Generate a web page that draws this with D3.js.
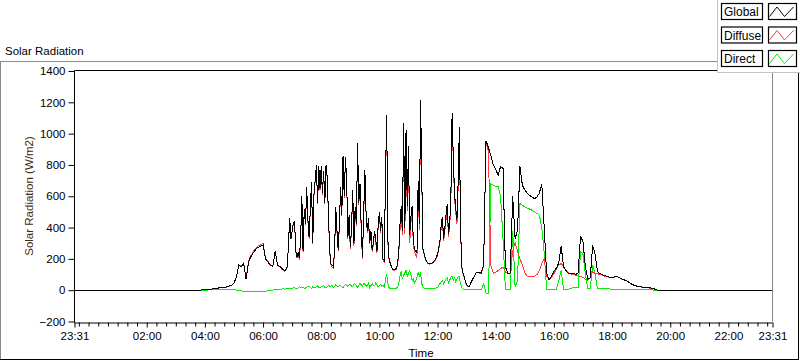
<!DOCTYPE html>
<html><head><meta charset="utf-8">
<script src="https://cdn.jsdelivr.net/npm/d3@7"></script>
<style>
html,body{margin:0;padding:0;background:#fff;}
svg{display:block;font-family:"Liberation Sans",Arial,sans-serif;}
</style></head><body>
<svg id="chart" width="800" height="361"></svg>
<script>
// ---------------- data ----------------
const chartTitle = "Solar Radiation";
const yAxisTitle = "Solar Radiation (W/m2)";
const xAxisTitle = "Time";
const seriesNames = ["Global", "Diffuse", "Direct"];
const seriesColors = ["#000000", "#ff3b3b", "#00ee00"];
const yTicks = [-200, 0, 200, 400, 600, 800, 1000, 1200, 1400];
const xTickLabels = ["23:31", "02:00", "04:00", "06:00", "08:00", "10:00", "12:00", "14:00", "16:00", "18:00", "20:00", "22:00", "23:31"];
const minorTickStepMin = 20;
// logger sampling: segments of regular readings
const sampleSegments = [
  { start: "03:50", stepMin: 5,   count: 36 },   // 03:50 - 06:45
  { start: "06:50", stepMin: 2.5, count: 148 },  // 06:50 - 12:57.5
  { start: "13:00", stepMin: 5,   count: 80 }    // 13:00 - 19:35
];
const nightValue = 0;   // global reading outside the sampled period

const globalRad = [
  0, 2,
  4, 5, 6, 8, 10, 12, 15, 16, 18, 21, 26, 32,
  45, 85, 160, 150, 170, 70, 180, 215, 240, 260, 275, 280,
  290, 200, 180, 160, 150, 250, 160, 150, 135, 125,
  150, 300, 460, 330,
  380, 430, 440, 250, 210, 240, 205, 330, 600, 250, 520, 420, 660, 450, 340, 520, 690, 300, 610, 700, 800, 560, 790, 650,
  790, 620, 760, 560, 800, 720, 470, 250, 170, 160, 150, 250, 530, 380, 260, 420, 660, 480, 860, 600, 850, 700, 340, 480,
  275, 400, 640, 300, 530, 420, 940, 560, 680, 400, 210, 480, 770, 500, 380, 460, 300, 380, 260, 300, 380, 320, 250, 420,
  500, 380, 470, 200, 190, 700, 1120, 320, 200, 170, 150, 135, 130, 132, 140, 170, 250, 420, 540, 380, 1065, 400, 1020, 540,
  920, 350, 470, 540, 320, 260, 250, 240, 700, 420, 1215, 700, 260, 230, 200, 185, 175, 170, 170, 172, 175, 185, 195, 210,
  230, 270, 320, 420, 470, 330, 400, 480, 550, 360, 430, 600, 1130, 850, 620, 520, 450, 700, 1040, 400, 150, 110, 85, 55,
  35, 21, 55, 85, 115, 112, 110, 160, 955, 910, 860, 800,
  770, 735, 790, 780, 150, 105, 110, 600, 330, 380, 790, 670,
  640, 620, 605, 595, 585, 595, 620, 680, 400, 110, 65, 90,
  120, 140, 175, 280, 150, 125, 108, 105, 108, 100, 110, 345,
  310, 150, 70, 80, 285, 230, 117, 106, 98, 92, 88, 82,
  82, 85, 88, 80, 72, 66, 60, 50, 40, 32, 27, 24,
  21, 18, 16, 15, 14, 11, 4, 0
];
const diffuseRad = [
  0, 2,
  4, 5, 6, 7, 9, 11, 14, 15, 17, 20, 25, 31,
  44, 84, 162, 152, 174, 72, 186, 222, 247, 268, 283, 289,
  298, 205, 184, 162, 150, 249, 158, 147, 130, 120,
  146, 295, 455, 326,
  375, 424, 433, 245, 207, 234, 196, 323, 594, 242, 516, 415, 652, 440, 330, 514, 685, 292, 603, 694, 791, 549, 784, 642,
  782, 610, 749, 553, 794, 711, 457, 240, 160, 148, 143, 240, 516, 369, 251, 408, 648, 472, 854, 589, 835, 688, 330, 466,
  261, 390, 631, 284, 514, 408, 933, 547, 662, 386, 200, 463, 755, 490, 368, 442, 294, 369, 243, 288, 369, 302, 236, 411,
  488, 365, 460, 188, 182, 676, 1078, 304, 194, 165, 146, 131, 126, 128, 135, 162, 232, 384, 492, 352, 1027, 356, 968, 506,
  876, 300, 430, 516, 292, 242, 226, 208, 655, 384, 1172, 684, 253, 224, 195, 181, 171, 166, 167, 169, 172, 181, 191, 204,
  223, 258, 303, 398, 446, 314, 378, 452, 519, 341, 405, 566, 1094, 824, 588, 498, 422, 665, 1006, 384, 144, 107, 83, 53,
  32, 19, 53, 83, 113, 110, 108, 150, 955, 880, 160, 108,
  115, 125, 138, 149, 115, 105, 110, 250, 305, 250, 200, 160,
  110, 90, 85, 85, 88, 100, 125, 170, 200, 90, 75, 80,
  105, 135, 160, 170, 150, 128, 110, 104, 98, 96, 92, 89,
  82, 70, 64, 80, 118, 110, 106, 100, 96, 90, 86, 81,
  81, 84, 87, 79, 71, 65, 59, 49, 39, 31, 26, 23,
  20, 17, 15, 14, 13, 10, 4, 0
];
const directRad = [
  0, 0,
  1, 1, 2, 2, 2, 2, 3, 2, 3, 3, 2, 3,
  2, 1, -3, -5, -6, -8, -8, -7, -8, -9, -8, -9,
  -8, -6, -5, -3, 1, 4, 6, 5, 8, 7,
  10, 12, 14, 9,
  12, 16, 18, 11, 8, 14, 22, 17, 15, 20, 10, 13, 20, 26, 25, 16, 12, 21, 18, 14, 22, 27, 15, 19,
  20, 24, 28, 18, 15, 22, 32, 26, 25, 30, 18, 24, 35, 27, 22, 31, 30, 20, 15, 28, 38, 30, 25, 34,
  35, 26, 22, 40, 40, 29, 18, 33, 45, 36, 25, 42, 38, 24, 30, 44, 15, 28, 42, 31, 28, 46, 35, 22,
  30, 38, 25, 30, 20, 60, 106, 40, 15, 12, 10, 10, 10, 11, 12, 20, 45, 90, 120, 70, 95, 110, 130, 85,
  110, 125, 100, 60, 70, 45, 60, 80, 112, 90, 108, 40, 18, 14, 12, 11, 10, 9, 8, 8, 8, 9, 10, 14,
  18, 30, 42, 55, 60, 40, 55, 70, 78, 48, 62, 85, 90, 65, 80, 55, 70, 88, 85, 40, 15, 8, 5, 4,
  3, 2, 2, 2, 2, 3, 3, 40, -20, -20, 680, 670,
  662, 660, 600, 330, 5, 5, 5, 380, 21, 60, 553, 543,
  532, 525, 518, 510, 500, 490, 480, 400, 240, 5, 5, 5,
  5, 5, 60, 128, 5, 5, 5, 12, 15, 15, 17, 245,
  230, 100, 10, 10, 160, 100, 10, 10, 10, 10, 8, 8,
  6, 5, 4, 4, 4, 4, 4, 4, 4, 3, 3, 3,
  3, 3, 2, 2, 2, 1, 1, 0
];

// ---------------- helpers ----------------
const toMin = s => { const [h, m] = s.split(":").map(Number); return h * 60 + m; };
const xDomain = [toMin(xTickLabels[0]) - 1440, toMin(xTickLabels[xTickLabels.length - 1])];
const xTickVals = xTickLabels.map((s, i) => i === 0 ? toMin(s) - 1440 : toMin(s));
const sampleTimes = [];
sampleSegments.forEach(seg => {
  const s = toMin(seg.start);
  for (let k = 0; k < seg.count; k++) sampleTimes.push(s + k * seg.stepMin);
});

const svg = d3.select("#chart");
const W = 800, H = 361;
const plot = { left: 74.5, right: 772.5, top: 71, bottom: 321.5 };

const x = d3.scaleLinear().domain(xDomain).range([plot.left, plot.right]);
const y = d3.scaleLinear().domain([-200, 1400]).range([plot.bottom, plot.top]);

// outer panel frame
svg.append("rect").attr("x", 0).attr("y", 0).attr("width", W).attr("height", H).attr("fill", "#fff");
svg.append("line").attr("x1", 0.5).attr("x2", 0.5).attr("y1", 61.5).attr("y2", 359.5).attr("stroke", "#8a8a8a");
svg.append("line").attr("x1", 0).attr("x2", 718).attr("y1", 61.5).attr("y2", 61.5).attr("stroke", "#8a8a8a");
svg.append("line").attr("x1", 0).attr("x2", 799).attr("y1", 359.5).attr("y2", 359.5).attr("stroke", "#000");
svg.append("line").attr("x1", 798.5).attr("x2", 798.5).attr("y1", 61).attr("y2", 360).attr("stroke", "#000");

// title
svg.append("text").attr("x", 5).attr("y", 55).attr("font-size", "11.5px").attr("fill", "#000").text(chartTitle);

// plot area
svg.append("rect").attr("x", plot.left).attr("y", plot.top).attr("width", plot.right - plot.left).attr("height", plot.bottom - plot.top).attr("fill", "#fff");

// data lines
const line = d3.line().x(d => x(d[0])).y(d => y(d[1]));
const n = Math.min(sampleTimes.length, globalRad.length, diffuseRad.length, directRad.length);
const idx = d3.range(n);
const globalPts = [[xDomain[0], nightValue]].concat(idx.map(i => [sampleTimes[i], globalRad[i]])).concat([[xDomain[1], nightValue]]);
const diffusePts = idx.map(i => [sampleTimes[i], diffuseRad[i]]);
const directPts = idx.map(i => [sampleTimes[i], directRad[i]]);

const gLines = svg.append("g").attr("fill", "none").attr("stroke-width", 1).attr("shape-rendering", "crispEdges");
gLines.append("path").datum(directPts).attr("d", line).attr("stroke", seriesColors[2]);
gLines.append("path").datum(diffusePts).attr("d", line).attr("stroke", seriesColors[1]);
gLines.append("path").datum(globalPts).attr("d", line).attr("stroke", seriesColors[0]);

// plot border: top/left black, right gray
svg.append("line").attr("x1", plot.left).attr("x2", plot.right).attr("y1", 70.5).attr("y2", 70.5).attr("stroke", "#000");
svg.append("line").attr("x1", plot.right).attr("x2", plot.right).attr("y1", 70.5).attr("y2", plot.bottom).attr("stroke", "#8a8a8a");

// y axis
const yAxis = svg.append("g").attr("transform", `translate(${plot.left},0)`)
  .call(d3.axisLeft(y).tickValues(yTicks).tickSize(6).tickPadding(3).tickFormat(d3.format("d")));
yAxis.select(".domain").attr("stroke", "#000").attr("d", `M0,${70.5}V${plot.bottom + 1}`);
yAxis.selectAll(".tick line").attr("stroke", "#000");
yAxis.selectAll(".tick text").attr("font-size", "11.5px").attr("font-family", "Liberation Sans, Arial, sans-serif").attr("fill", "#000");

// x axis
const axisY = plot.bottom + 1;
const minorVals = d3.range(Math.ceil(xDomain[0] / minorTickStepMin) * minorTickStepMin, xDomain[1], minorTickStepMin)
  .filter(v => !xTickVals.includes(v));
const xMinor = svg.append("g").attr("transform", `translate(0,${axisY})`)
  .call(d3.axisBottom(x).tickValues(minorVals).tickSize(4).tickFormat(""));
xMinor.select(".domain").remove();
xMinor.selectAll(".tick line").attr("stroke", "#000");
const xAxis = svg.append("g").attr("transform", `translate(0,${axisY})`)
  .call(d3.axisBottom(x).tickValues(xTickVals).tickSize(5).tickPadding(4).tickFormat((d, i) => xTickLabels[i]));
xAxis.select(".domain").attr("stroke", "#000").attr("d", `M${plot.left},0.5H${plot.right}`);
xAxis.selectAll(".tick line").attr("stroke", "#000");
xAxis.selectAll(".tick text").attr("font-size", "11.5px").attr("font-family", "Liberation Sans, Arial, sans-serif").attr("fill", "#000");

// axis titles
svg.append("text").attr("transform", `translate(33,${196}) rotate(-90)`).attr("text-anchor", "middle")
  .attr("font-size", "11.5px").attr("fill", "#3d2a10").text(yAxisTitle);
svg.append("text").attr("x", 421).attr("y", 357).attr("text-anchor", "middle")
  .attr("font-size", "11.5px").attr("fill", "#000").text(xAxisTitle);

// legend
const lg = svg.append("g");
lg.append("rect").attr("x", 717.5).attr("y", -1).attr("width", 84).attr("height", 73.5).attr("fill", "#fff").attr("stroke", "#c4c4c4");
seriesNames.forEach((name, i) => {
  const y0 = 3.5 + i * 23.5;
  lg.append("rect").attr("x", 721.5).attr("y", y0).attr("width", 41).attr("height", 16).attr("fill", "#fff").attr("stroke", "#000").attr("stroke-width", 1.2);
  lg.append("text").attr("x", 724).attr("y", y0 + 12.5).attr("font-size", "12px").attr("fill", "#000").text(name);
  lg.append("rect").attr("x", 768.5).attr("y", y0).attr("width", 28).attr("height", 16).attr("fill", "#fff").attr("stroke", "#000").attr("stroke-width", 1.2);
  const zz = [[1, 13], [8.5, 3.5], [16, 13], [25, 3.5]].map(p => [768.5 + p[0], y0 + p[1]]);
  lg.append("path").attr("d", d3.line()(zz)).attr("fill", "none").attr("stroke", seriesColors[i]).attr("stroke-width", 1);
});
</script>
</body></html>
